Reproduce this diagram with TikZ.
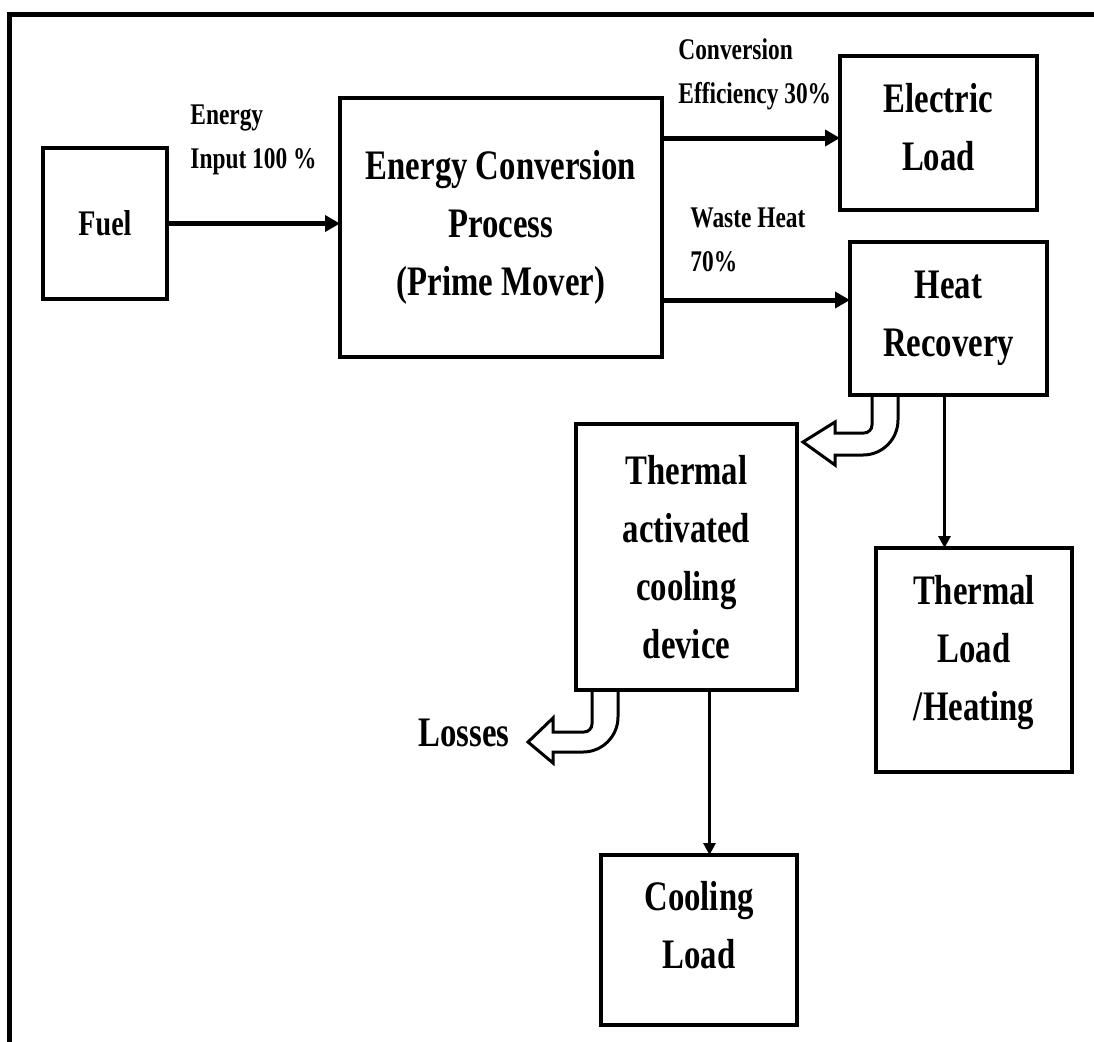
\documentclass[tikz,border=0pt]{standalone}
\usepackage{fontspec}
\setmainfont{Liberation Serif}[FakeStretch=0.78]
\usepackage{tikz}
\usetikzlibrary{arrows.meta,positioning}

\begin{document}
\begin{tikzpicture}[x=0.5pt,y=-0.5pt]
\tikzset{box/.style={draw,line width=2pt,outer sep=0pt,align=center,
        font=\bfseries\fontsize{21}{29}\selectfont},
    lab/.style={inner sep=0pt,align=left,anchor=north west,
        font=\bfseries\fontsize{15}{22}\selectfont},
    bigarrow/.style={line width=2.5pt,-{Triangle[length=7.5pt,width=8pt]}},
    thinarrow/.style={line width=1.5pt,-{Triangle[length=6pt,width=6pt]}},
    hollow/.style={line width=1.5pt,line join=miter}}
\useasboundingbox (0,0) rectangle (1094,1041);

% frame, top and left only
\draw[line width=2.5pt] (9,1045) -- (9,14) -- (1098,14);

% the blocks
\node[box,minimum width=62pt,minimum height=75.5pt,
    font=\bfseries\fontsize{18}{24}\selectfont] (fuel) at (105,223.5) {Fuel};
\node[box,minimum width=161pt,minimum height=129.5pt] (ecp) at (501,227.5)
    {Energy Conversion\\Process\\(Prime Mover)};
\node[box,minimum width=98.5pt,minimum height=77pt,text depth=6pt] (elec) at (938.5,133)
    {Electric\\Load};
\node[box,minimum width=98.5pt,minimum height=76.5pt] (hr) at (948.5,318.5) {Heat\\Recovery};
\node[box,minimum width=110.5pt,minimum height=133pt] (tacd) at (686.5,557)
    {Thermal\\activated\\cooling\\device};
\node[box,minimum width=98pt,minimum height=112pt,text depth=12.5pt] (tl) at (974,660)
    {Thermal\\Load\\/Heating};
\node[box,minimum width=98pt,minimum height=85pt,text depth=15pt] (cl) at (699,940)
    {Cooling\\Load};

% flows
\draw[bigarrow] (fuel.east) -- (fuel.east -| ecp.west);
\draw[bigarrow] ([yshift=-20pt]ecp.north east) coordinate (eo) -- (eo -| elec.west);
\draw[bigarrow] ([yshift=28.5pt]ecp.south east) coordinate (wo) -- (wo -| hr.west);
\draw[thinarrow] ([xshift=-2pt]hr.south) coordinate (ho) -- (ho |- tl.north);
\draw[thinarrow] ([xshift=11.5pt]tacd.south) coordinate (co) -- (co |- cl.north);

% hollow bent arrows
\draw[hollow] ([xshift=11pt]hr.south west) -- ++(0,30)
    .. controls +(0,4.4) and +(4.4,0) .. ++(-8,8) -- ++(-29,0)
    -- ++(0,-11) -- ++(-32,20) -- ++(32,23) -- ++(0,-10) -- ++(28,0)
    .. controls +(19.3,0) and +(0,19.3) .. ++(35,-35) -- ++(0,-25);
\draw[hollow] ([xshift=8pt]tacd.south west) -- ++(0,34)
    .. controls +(0,4.4) and +(4.4,0) .. ++(-8,8) -- ++(-31,0)
    -- ++(0,-14) -- ++(-25,24) -- ++(25,21) -- ++(0,-11) -- ++(30,0)
    .. controls +(19.3,0) and +(0,19.3) .. ++(35,-35) -- ++(0,-27);

% labels
\node[lab] (inlab) at (190,104) {Energy\\Input 100 \%};
\node[lab] (efflab) at (678,38) {Conversion\\Efficiency 30\%};
\node[lab] (wastelab) at (690,207) {Waste Heat\\70\%};
\node[lab,anchor=west,font=\bfseries\fontsize{21}{29}\selectfont] (losslab) at (418,733) {Losses};
\end{tikzpicture}
\end{document}
